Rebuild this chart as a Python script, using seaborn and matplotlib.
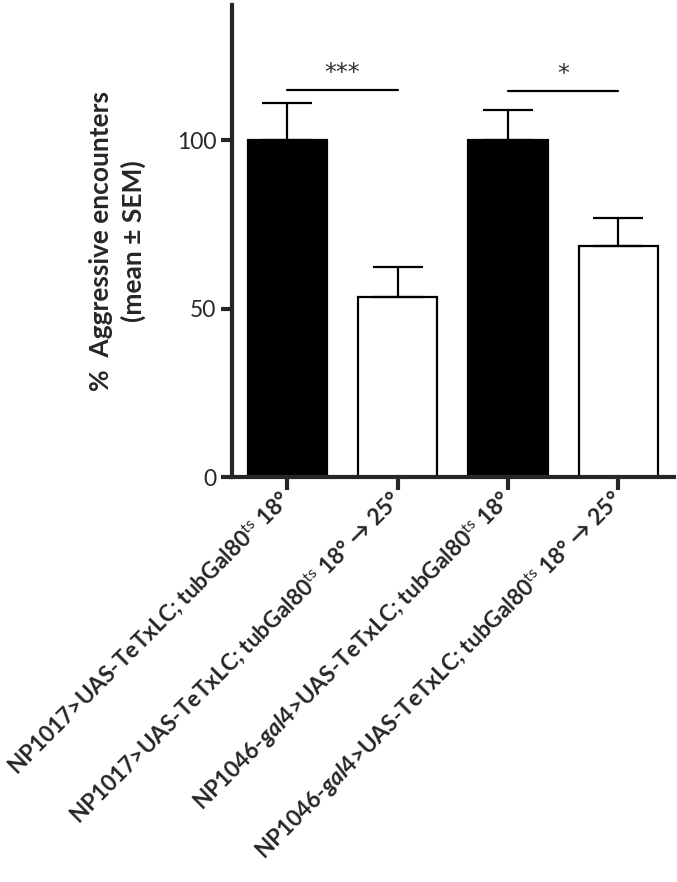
import numpy as np
import pandas as pd
import seaborn as sns
import matplotlib.pyplot as plt
from matplotlib.transforms import ScaledTranslation

# data
groups = [
    r"NP1017>UAS-TeTxLC; tubGal80$^{\mathsf{ts}}$ 18°",
    r"NP1017>UAS-TeTxLC; tubGal80$^{\mathsf{ts}}$ 18° → 25°",
    r"NP1046-$\mathit{gal4}$>UAS-TeTxLC; tubGal80$^{\mathsf{ts}}$ 18°",
    r"NP1046-$\mathit{gal4}$>UAS-TeTxLC; tubGal80$^{\mathsf{ts}}$ 18° → 25°",
]
means = [100.0, 53.5, 100.0, 68.5]
sems = [11.0, 9.0, 9.0, 8.3]
bar_colors = ["black", "white", "black", "white"]

# significance brackets: (left group, right group, height, label)
sig_pairs = [(0, 1, 114.8, "***"), (2, 3, 114.5, "*")]
y_ticks = [0, 50, 100]


def make_figure(name):
    sns.set_theme(style="ticks")
    plt.rcParams["font.family"] = ["Lato", "DejaVu Sans"]
    plt.rcParams["mathtext.fontset"] = "custom"
    plt.rcParams["mathtext.rm"] = "Lato:bold"
    plt.rcParams["mathtext.it"] = "Lato:bold:italic"
    plt.rcParams["mathtext.sf"] = "Lato"

    df = pd.DataFrame({"group": groups, "mean": means})

    fig = plt.figure(figsize=(6.77, 8.82), dpi=100)
    ax = fig.add_axes([0.343, 0.459, 0.652, 0.535])

    sns.barplot(
        data=df, x="group", y="mean", hue="group", palette=bar_colors,
        edgecolor="black", linewidth=1.6, width=0.72, legend=False, ax=ax,
    )

    xs = np.arange(len(groups))
    ax.errorbar(
        xs, means, yerr=[np.zeros(len(sems)), sems], fmt="none",
        ecolor="black", elinewidth=1.6, capsize=18, capthick=1.6, zorder=1,
    )

    for a, b, h, lab in sig_pairs:
        ax.plot([xs[a], xs[b]], [h, h], color="black", lw=1.6)
        ax.text((xs[a] + xs[b]) / 2, h + 1.5, lab, ha="center", va="bottom",
                fontsize=17, color="#333333", family="DejaVu Sans")

    ax.set_xlim(-0.5, 3.5)
    ax.set_ylim(0, 140)
    ax.set_yticks(y_ticks)
    ax.set_xticks(xs)
    ax.set_xticklabels(groups, rotation=45, ha="right", va="center",
                       rotation_mode="anchor", fontsize=16.3, fontweight="bold")
    shift = ScaledTranslation(-4 / 100, -12 / 100, fig.dpi_scale_trans)
    for lab in ax.get_xticklabels():
        lab.set_transform(lab.get_transform() + shift)
    ax.tick_params(axis="y", labelsize=16.5, width=3, length=8)
    ax.tick_params(axis="x", width=3, length=9, pad=4)
    ax.set_xlabel("")
    ax.set_ylabel("%  Aggressive encounters\n(mean ± SEM)", fontsize=19,
                  fontweight="bold", labelpad=22, linespacing=1.35)

    for side in ["left", "bottom"]:
        ax.spines[side].set_linewidth(3)
    sns.despine(ax=ax)

    fig.savefig(name, dpi=100)


if __name__ == "__main__":
    make_figure("out.png")
